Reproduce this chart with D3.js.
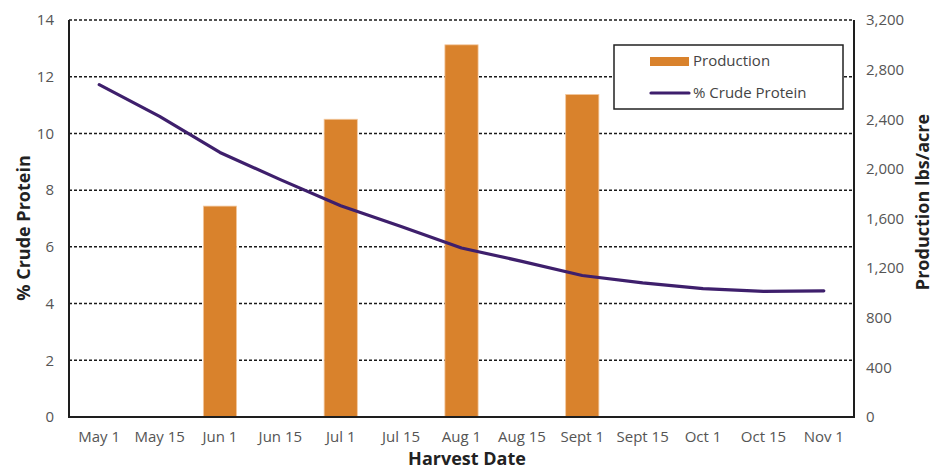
<!DOCTYPE html>
<html>
<head>
<meta charset="utf-8">
<script src="https://cdn.jsdelivr.net/npm/d3@7"></script>
<style>
  body { margin: 0; background: #fff; }
  text { font-family: "Open Sans", sans-serif; }
</style>
</head>
<body>
<div id="chart-area"></div>
<script>
// data
var dates = ["May 1", "May 15", "Jun 1", "Jun 15", "Jul 1", "Jul 15", "Aug 1", "Aug 15", "Sept 1", "Sept 15", "Oct 1", "Oct 15", "Nov 1"];
var production = [null, null, 1700, null, 2400, null, 3000, null, 2600, null, null, null, null];
var protein = [11.72, 10.6, 9.33, 8.37, 7.45, 6.72, 5.96, 5.49, 4.99, 4.73, 4.53, 4.43, 4.45];
var proteinTicks = [0, 2, 4, 6, 8, 10, 12, 14];
var productionTicks = [0, 400, 800, 1200, 1600, 2000, 2400, 2800, 3200];

var plotL = 69, plotR = 854, plotT = 20, plotB = 417;

var svg = d3.select("#chart-area").append("svg")
	.attr("width", 935)
	.attr("height", 470);

var x = d3.scaleBand()
	.domain(dates)
	.range([plotL, plotR]);

var yLeft = d3.scaleLinear()
	.domain([0, 14])
	.range([plotB, plotT]);

var yRight = d3.scaleLinear()
	.domain([0, 3200])
	.range([plotB, plotT]);

// dashed gridlines
svg.append("g")
	.selectAll("line")
	.data(proteinTicks.slice(1))
	.enter()
	.append("line")
	.attr("x1", plotL)
	.attr("x2", plotR)
	.attr("y1", (d) => yLeft(d))
	.attr("y2", (d) => yLeft(d))
	.attr("stroke", "#1a1a1a")
	.attr("stroke-width", 1.5)
	.attr("stroke-dasharray", "3,2");

// bars
var barW = x.bandwidth() * 0.55;
var rows = dates.map((d, i) => ({ date: d, prod: production[i], prot: protein[i] }));
svg.append("g")
	.selectAll("rect")
	.data(rows.filter((d) => d.prod != null))
	.enter()
	.append("rect")
	.attr("x", (d) => x(d.date) + (x.bandwidth() - barW) / 2)
	.attr("y", (d) => yRight(d.prod))
	.attr("width", barW)
	.attr("height", (d) => plotB - yRight(d.prod))
	.attr("fill", "#d9822c")
	.attr("stroke", "#f3c9a0")
	.attr("stroke-width", 0.8);

// protein line
var line = d3.line()
	.x((d) => x(d.date) + x.bandwidth() / 2)
	.y((d) => yLeft(d.prot));
svg.append("path")
	.datum(rows)
	.attr("d", line)
	.attr("fill", "none")
	.attr("stroke", "#3e1f6c")
	.attr("stroke-width", 3.2)
	.attr("stroke-linecap", "round")
	.attr("stroke-linejoin", "round");

// axes
var leftAxis = d3.axisLeft(yLeft).tickValues(proteinTicks).tickSize(0).tickPadding(15);
var gl = svg.append("g")
	.attr("transform", "translate(" + plotL + ",0)")
	.call(leftAxis);

var rightAxis = d3.axisRight(yRight).tickValues(productionTicks).tickSize(0).tickPadding(12)
	.tickFormat(d3.format(","));
var gr = svg.append("g")
	.attr("transform", "translate(" + plotR + ",0)")
	.call(rightAxis);

var bottomAxis = d3.axisBottom(x).tickSize(0).tickPadding(14);
var gb = svg.append("g")
	.attr("transform", "translate(0," + plotB + ")")
	.call(bottomAxis);

[gl, gr, gb].forEach((g) => {
	g.select(".domain").remove();
	g.selectAll("text")
		.attr("font-family", "Open Sans, sans-serif")
		.attr("font-size", "15px")
		.attr("fill", "#555");
});

// frame: solid left, right and bottom
svg.append("path")
	.attr("d", "M" + plotL + "," + plotT + "V" + plotB + "H" + plotR + "V" + plotT)
	.attr("fill", "none")
	.attr("stroke", "#1e1e1e")
	.attr("stroke-width", 2);

// axis titles
svg.append("text")
	.attr("x", 467)
	.attr("y", 465)
	.attr("text-anchor", "middle")
	.attr("font-size", "18px")
	.attr("font-weight", "bold")
	.attr("fill", "#222")
	.text("Harvest Date");

svg.append("text")
	.attr("transform", "translate(30,228) rotate(-90)")
	.attr("text-anchor", "middle")
	.attr("font-size", "18px")
	.attr("font-weight", "bold")
	.attr("fill", "#222")
	.text("% Crude Protein");

svg.append("text")
	.attr("transform", "translate(929,202) rotate(-90)")
	.attr("text-anchor", "middle")
	.attr("font-size", "18px")
	.attr("font-weight", "bold")
	.attr("fill", "#222")
	.text("Production lbs/acre");

// legend
var legend = svg.append("g").attr("transform", "translate(614,45)");
legend.append("rect")
	.attr("width", 229)
	.attr("height", 64)
	.attr("fill", "#fff")
	.attr("stroke", "#222")
	.attr("stroke-width", 1.5);
legend.append("rect")
	.attr("x", 36)
	.attr("y", 12)
	.attr("width", 39)
	.attr("height", 9)
	.attr("fill", "#d9822c");
legend.append("line")
	.attr("x1", 37)
	.attr("x2", 75)
	.attr("y1", 48)
	.attr("y2", 48)
	.attr("stroke", "#3e1f6c")
	.attr("stroke-width", 3.2)
	.attr("stroke-linecap", "round");
legend.append("text")
	.attr("x", 79)
	.attr("y", 21)
	.attr("font-size", "15px")
	.attr("fill", "#444")
	.text("Production");
legend.append("text")
	.attr("x", 79)
	.attr("y", 53)
	.attr("font-size", "15px")
	.attr("fill", "#444")
	.text("% Crude Protein");
</script>
</body>
</html>
